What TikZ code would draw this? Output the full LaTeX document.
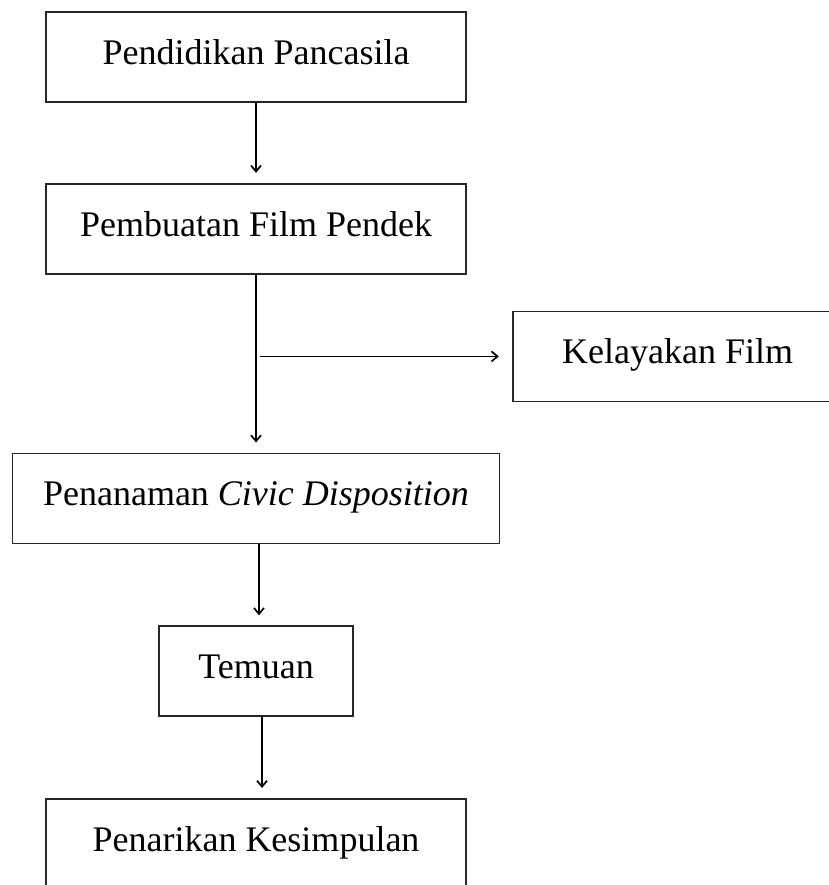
\documentclass[tikz,border=0pt]{standalone}
\usepackage{fontspec}
\setmainfont{Liberation Serif}
\usepackage{tikz}
\usetikzlibrary{positioning, arrows.meta}
\tikzset{
    stage/.style={rectangle, draw=black!85, line width=1.7pt, fill=white, align=center, minimum width=420pt, minimum height=90pt, inner sep=0pt, text height=24pt, text depth=9pt, font=\fontsize{36}{43}\selectfont},
    arrow/.style={-{Straight Barb[length=6pt,width=10pt]}, line width=1.7pt, shorten >=10pt}
}

\begin{document}
\begin{tikzpicture}[x=1pt, y=1pt]
        \useasboundingbox (0,0) rectangle (828,-885);
        \node[stage] (Pendidikan) at (256,-57) {Pendidikan Pancasila};
        \node[stage, below=80pt of Pendidikan] (Pembuatan) {Pembuatan Film Pendek};
        \node[stage, minimum width=330pt, below right=36pt and 45pt of Pembuatan] (Kelayakan) {Kelayakan Film};
        \node[stage, minimum width=487pt, below=178pt of Pembuatan] (Penanaman) {Penanaman \textit{Civic Disposition}};
        \node[stage, minimum width=194pt, below=81pt of Penanaman] (Temuan) {Temuan};
        \node[stage, below=81pt of Temuan] (Kesimpulan) {Penarikan Kesimpulan};
        
        \coordinate (split) at (Pembuatan.south |- Kelayakan.west);
        
        \draw[arrow] (Pendidikan) -- (Pembuatan);
        \draw[arrow] (Pembuatan) -- (Penanaman);
        \draw[arrow, shorten <=4pt, shorten >=13pt] (split) -- (Kelayakan);
        \draw[arrow] ([xshift=3pt]Penanaman.south) -- ([xshift=3pt]Temuan.north);
        \draw[arrow] ([xshift=6pt]Temuan.south) -- ([xshift=6pt]Kesimpulan.north);
    \end{tikzpicture}
\end{document}
